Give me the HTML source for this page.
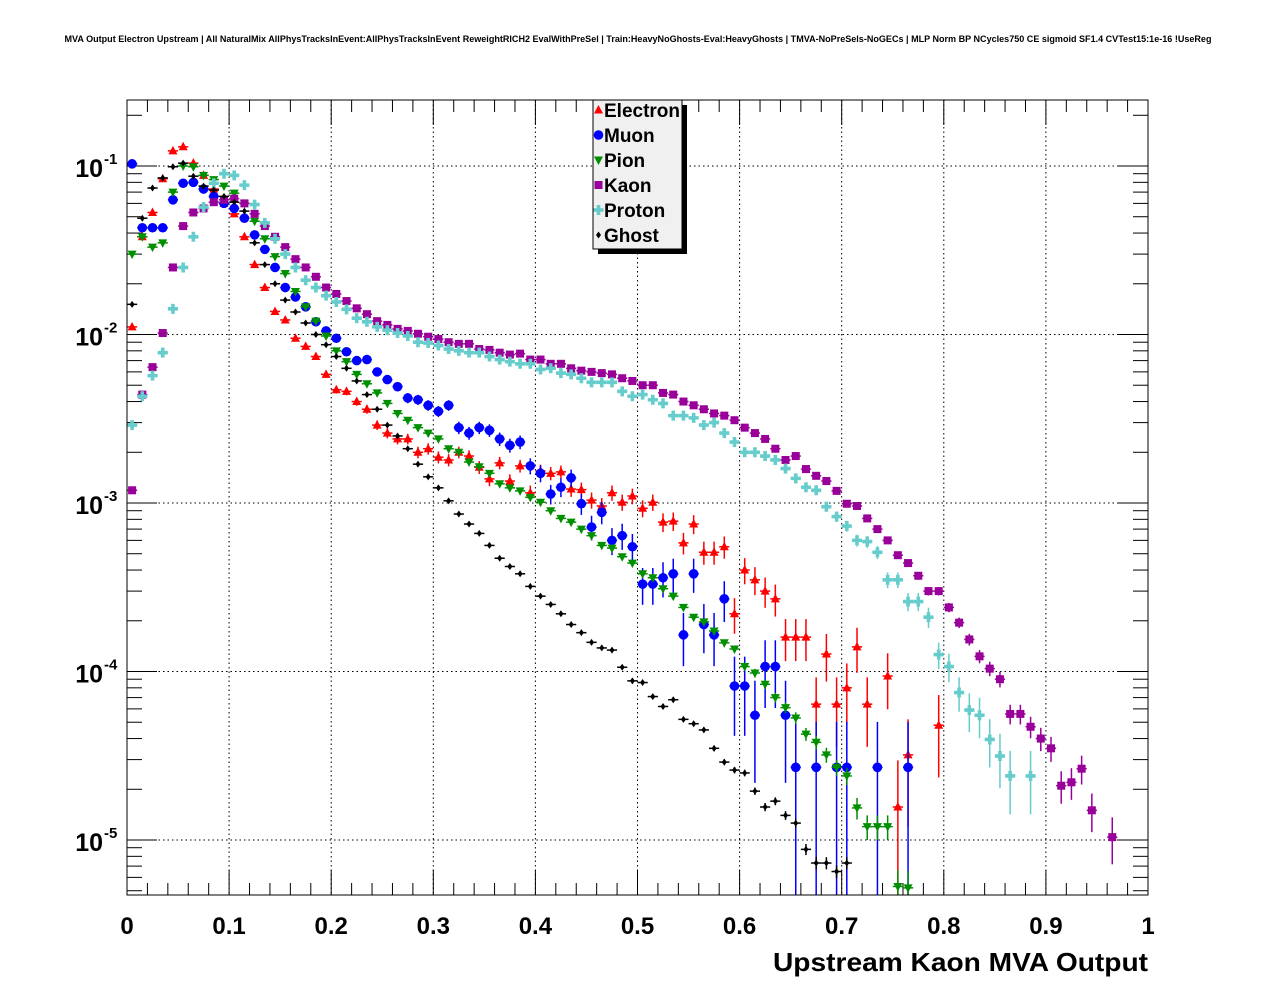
<!DOCTYPE html>
<html><head><meta charset="utf-8">
<style>html,body{margin:0;padding:0;background:#fff}svg{display:block}text{font-family:"Liberation Sans",Arial,sans-serif;font-weight:bold}</style>
</head><body>
<svg id="chart" width="1276" height="996" viewBox="0 0 1276 996" xmlns="http://www.w3.org/2000/svg">
<rect width="1276" height="996" fill="#fff"/>
<text x="638" y="42" font-size="9" text-anchor="middle" textLength="1147" lengthAdjust="spacingAndGlyphs">MVA Output Electron Upstream | All NaturalMix AllPhysTracksInEvent:AllPhysTracksInEvent ReweightRICH2 EvalWithPreSel | Train:HeavyNoGhosts-Eval:HeavyGhosts | TMVA-NoPreSels-NoGECs | MLP Norm BP NCycles750 CE sigmoid SF1.4 CVTest15:1e-16 !UseReg</text>
<defs><clipPath id="plotclip"><rect x="127" y="100" width="1021" height="795"/></clipPath></defs>
<g id="grid"></g>
<g id="axes"></g>
<g id="series" clip-path="url(#plotclip)"></g>
<rect x="127" y="100" width="1021" height="795" fill="none" stroke="#000" stroke-width="1"/>
<text x="1148" y="971" font-size="26" text-anchor="end" textLength="375" lengthAdjust="spacingAndGlyphs">Upstream Kaon MVA Output</text>
<g id="legend"></g>
</svg>
<script>
const xTickLabels = ["0","0.1","0.2","0.3","0.4","0.5","0.6","0.7","0.8","0.9","1"];
const xTickValues = [0,0.1,0.2,0.3,0.4,0.5,0.6,0.7,0.8,0.9,1];
const yDecades = [-1,-2,-3,-4,-5];
const seriesNames = ["Electron","Muon","Pion","Kaon","Proton","Ghost"];
const binWidth = 0.01;
const electron = [0.0111,0.038,0.053,0.084,0.123,0.13,0.104,0.088,0.073,0.060,0.052,0.038,0.026,0.019,0.0137,0.0122,0.0095,0.0085,0.0074,0.0058,0.0047,0.0046,0.0040,0.0036,0.0029,0.0026,0.0024,0.0024,0.0020,0.0021,0.00187,0.0018,0.0020,0.0019,0.00163,0.00139,0.00173,0.00135,0.00166,0.00115,0.00155,0.0015,0.00153,0.00121,0.0012,0.00104,0.00096,0.00115,0.00101,0.0011,0.00093,0.00101,0.00077,0.00078,0.00058,0.00075,0.00051,0.00051,0.00055,0.00022,0.0004,0.00035,0.0003,0.00027,0.00016,0.00016,0.00016,6.4e-5,1.27e-4,6.4e-5,8e-5,1.4e-4,6.4e-5,null,9.4e-5,1.57e-5,3.2e-5,null,null,4.8e-5];
const muon = [0.103,0.043,0.043,0.043,0.063,0.079,0.080,0.073,0.066,0.060,0.056,0.049,0.039,0.032,0.025,0.019,0.0167,0.0146,0.0119,0.0105,0.0095,0.0079,0.0070,0.0071,0.006,0.0054,0.0049,0.0042,0.0041,0.0038,0.0035,0.0038,0.0028,0.0026,0.0028,0.0027,0.0024,0.0022,0.0023,0.00166,0.0015,0.00113,0.00124,0.00141,0.00099,0.00072,0.00088,0.0006,0.00064,0.00055,0.00033,0.00033,0.00036,0.00038,1.65e-4,0.00038,1.9e-4,1.65e-4,2.7e-4,8.2e-5,8.2e-5,5.5e-5,1.07e-4,1.07e-4,5.5e-5,2.7e-5,null,2.7e-5,null,2.7e-5,2.7e-5,null,null,2.7e-5,null,null,2.7e-5];
const pion = [0.030,0.038,0.033,0.035,0.070,0.10,0.099,0.088,0.083,0.076,0.069,0.060,0.047,0.037,0.029,0.023,0.018,0.0146,0.012,0.0098,0.008,0.0069,0.0058,0.0051,0.0045,0.0039,0.0034,0.0031,0.0028,0.0026,0.0024,0.0021,0.0020,0.00175,0.00164,0.0015,0.0013,0.00123,0.00118,0.00108,0.00101,0.0009,0.00081,0.00077,0.0007,0.00064,0.00056,0.00054,0.00048,0.00044,0.00038,0.00036,0.00031,0.00028,2.4e-4,2.1e-4,1.97e-4,1.74e-4,1.48e-4,1.36e-4,1.07e-4,9.8e-5,8.4e-5,7.0e-5,6.1e-5,5.3e-5,4.25e-5,3.8e-5,3.2e-5,2.7e-5,2.4e-5,1.55e-5,1.2e-5,1.2e-5,1.2e-5,5.3e-6,5.2e-6];
const kaon = [0.00119,0.0044,0.0064,0.0102,0.025,0.044,0.053,0.056,0.061,0.063,0.064,0.060,0.052,0.044,0.038,0.033,0.028,0.025,0.022,0.019,0.0174,0.0158,0.0143,0.0132,0.012,0.0114,0.0108,0.0105,0.0101,0.0097,0.0094,0.009,0.0088,0.0088,0.0082,0.0081,0.0078,0.0076,0.0077,0.0071,0.0071,0.0067,0.0067,0.0063,0.0061,0.006,0.0059,0.0058,0.0055,0.0053,0.005,0.005,0.0045,0.0044,0.0040,0.0038,0.0036,0.0034,0.0033,0.0031,0.0028,0.0026,0.0024,0.0021,0.0018,0.0019,0.00159,0.00145,0.00135,0.00118,0.00099,0.00096,0.00081,0.0007,0.0006,0.00049,0.00044,0.00037,0.0003,0.0003,2.4e-4,1.95e-4,1.55e-4,1.23e-4,1.04e-4,9e-5,5.6e-5,5.6e-5,4.7e-5,4.0e-5,3.5e-5,2.1e-5,2.2e-5,2.65e-5,1.5e-5,null,1.04e-5];
const proton = [0.0029,0.0043,0.0057,0.0078,0.0142,0.025,0.038,0.057,0.079,0.090,0.088,0.077,0.059,0.046,0.037,0.030,0.025,0.021,0.019,0.017,0.0156,0.0141,0.0125,0.0119,0.0111,0.0106,0.0102,0.0098,0.009,0.0089,0.0086,0.0082,0.008,0.0078,0.0078,0.0074,0.0071,0.0069,0.0067,0.0067,0.0062,0.0063,0.0059,0.0058,0.0055,0.0052,0.0052,0.0052,0.0046,0.0043,0.0044,0.0041,0.0039,0.0033,0.0033,0.0032,0.0029,0.003,0.0026,0.0023,0.002,0.002,0.0019,0.0018,0.0016,0.0014,0.00124,0.00119,0.00095,0.00083,0.00073,0.0006,0.00059,0.00051,0.00035,0.00035,0.00026,0.00026,0.00021,1.26e-4,1.07e-4,7.5e-5,5.9e-5,5.5e-5,3.95e-5,3.15e-5,2.4e-5,null,2.4e-5];
const ghost = [0.0151,0.049,0.074,0.085,0.099,0.104,0.087,0.076,0.072,0.066,0.061,0.054,0.035,0.026,0.020,0.016,0.0136,0.0117,0.0100,0.0087,0.0074,0.0063,0.0053,0.0044,0.0036,0.0029,0.0025,0.0021,0.0017,0.00143,0.00123,0.00103,0.00086,0.00075,0.00066,0.00056,0.00047,0.00042,0.00038,0.00032,0.00028,0.00025,0.00022,0.00019,0.00017,1.49e-4,1.38e-4,1.34e-4,1.06e-4,8.8e-5,8.6e-5,7.1e-5,6.2e-5,6.8e-5,5.2e-5,4.9e-5,4.5e-5,3.5e-5,2.9e-5,2.6e-5,2.5e-5,1.95e-5,1.57e-5,1.7e-5,1.4e-5,1.26e-5,8.8e-6,7.3e-6,7.3e-6,6.5e-6,7.3e-6];
const effEntries = [8e4,5e4,3e6,1e6,2.5e5,2e7];

const NS = "http://www.w3.org/2000/svg";
const X0=127, X1=1148, Y0=100, Y1=895;
const xs = v => X0 + v*(X1-X0);
const ys = v => 166 - (Math.log10(v)+1)*168.5;
function mk(tag, attrs, parent){const e=document.createElementNS(NS,tag);for(const k in attrs)e.setAttribute(k,attrs[k]);parent.appendChild(e);return e;}

const grid=document.getElementById('grid'), axes=document.getElementById('axes');
// grid
for(let i=1;i<10;i++){const gx=xs(xTickValues[i]);
  const l=mk('line',{x1:gx,x2:gx,y1:Y0,y2:Y1,stroke:'#000','stroke-width':1,'stroke-dasharray':'1.5,3'},grid);
  
  }
yDecades.forEach(d=>{const gy=ys(Math.pow(10,d));
  const l=mk('line',{x1:X0,x2:X1,y1:gy,y2:gy,stroke:'#000','stroke-width':1,'stroke-dasharray':'1.5,3'},grid);
  
  });
// x ticks
for(let i=0;i<=50;i++){const v=i*0.02, tx=xs(v), major=(i%5===0), L=major?25:12;
  const t1=mk('line',{x1:tx,x2:tx,y1:Y1,y2:Y1-L,stroke:'#000','stroke-width':1},axes);
  
  
  const t2=mk('line',{x1:tx,x2:tx,y1:Y0,y2:Y0+L,stroke:'#000','stroke-width':1},axes);
  
  }
xTickLabels.forEach((s,i)=>{const t=mk('text',{x:xs(xTickValues[i]),y:934,'font-size':24,'text-anchor':'middle'},axes);t.textContent=s;
  
  });
// y ticks
for(let d=-6;d<=0;d++){for(let m=1;m<=9;m++){const v=m*Math.pow(10,d);const ty=ys(v);if(ty<Y0||ty>Y1)continue;const L=(m===1)?30:15;
  const t1=mk('line',{x1:X0,x2:X0+L,y1:ty,y2:ty,stroke:'#000','stroke-width':1},axes);
  
  
  const t2=mk('line',{x1:X1,x2:X1-L,y1:ty,y2:ty,stroke:'#000','stroke-width':1},axes);
  
  }}
yDecades.forEach(d=>{const ty=ys(Math.pow(10,d));
  const t=mk('text',{x:103,y:ty+11,'font-size':25,'text-anchor':'end'},axes);t.textContent='10';
  
  
  const s=mk('text',{x:104,y:ty-2,'font-size':15,'text-anchor':'start'},axes);s.textContent=String(d);
  
  });

const colors=['#ff0000','#0000ff','#008f00','#990099','#66cccc','#000000'];
const shapes=['triup','circle','tridown','square','cross','diamond'];
function marker(shape,x,y,c,parent){
  if(shape==='triup')return mk('polygon',{points:`${x},${y-5} ${x-4.5},${y+3.5} ${x+4.5},${y+3.5}`,fill:c},parent);
  if(shape==='tridown')return mk('polygon',{points:`${x},${y+5} ${x-4.5},${y-3.5} ${x+4.5},${y-3.5}`,fill:c},parent);
  if(shape==='circle')return mk('circle',{cx:x,cy:y,r:4.8,fill:c},parent);
  if(shape==='square')return mk('rect',{x:x-4,y:y-4,width:8,height:8,fill:c},parent);
  if(shape==='cross')return mk('polygon',{points:`${x-1.8},${y-5} ${x+1.8},${y-5} ${x+1.8},${y-1.8} ${x+5},${y-1.8} ${x+5},${y+1.8} ${x+1.8},${y+1.8} ${x+1.8},${y+5} ${x-1.8},${y+5} ${x-1.8},${y+1.8} ${x-5},${y+1.8} ${x-5},${y-1.8} ${x-1.8},${y-1.8}`,fill:c},parent);
  return mk('polygon',{points:`${x},${y-3.5} ${x+2.5},${y} ${x},${y+3.5} ${x-2.5},${y}`,fill:c},parent);
}
const allSeries=[electron,muon,pion,kaon,proton,ghost];
const sl=document.getElementById('series');
allSeries.forEach((arr,si)=>{
  const g=mk('g',{},sl);
  
  
  const c=colors[si];
  arr.forEach((v,i)=>{ if(v===null||v<=0)return;
    const cx=xs((i+0.5)*binWidth), cy=ys(v);
    const rel=1/Math.sqrt(v*effEntries[si]);
    const hi=v*(1+rel), lo=v*(1-rel);
    const yhi=ys(hi), ylo=lo>0?ys(lo):Y1+10;
    const pg=mk('g',{},g);
    
    
    mk('line',{x1:cx-5.1,x2:cx+5.1,y1:cy,y2:cy,stroke:c,'stroke-width':1.5},pg);
    mk('line',{x1:cx,x2:cx,y1:yhi,y2:ylo,stroke:c,'stroke-width':1.5},pg);
    marker(shapes[si],cx,cy,c,pg);
  });
});
// legend
const lg=document.getElementById('legend');
const sh=mk('rect',{x:598,y:105,width:89,height:149,fill:'#000'},lg);


const bx=mk('rect',{x:593,y:100,width:89,height:149,fill:'#f0f0f0',stroke:'#000','stroke-width':1},lg);


seriesNames.forEach((n,i)=>{const ry=110+25*i;
  const e=mk('g',{},lg);
  
  
  marker(shapes[i],598.5,ry,colors[i],e);
  const t=mk('text',{x:604,y:ry+7,'font-size':19},e);t.textContent=n;});
</script>
</body></html>
